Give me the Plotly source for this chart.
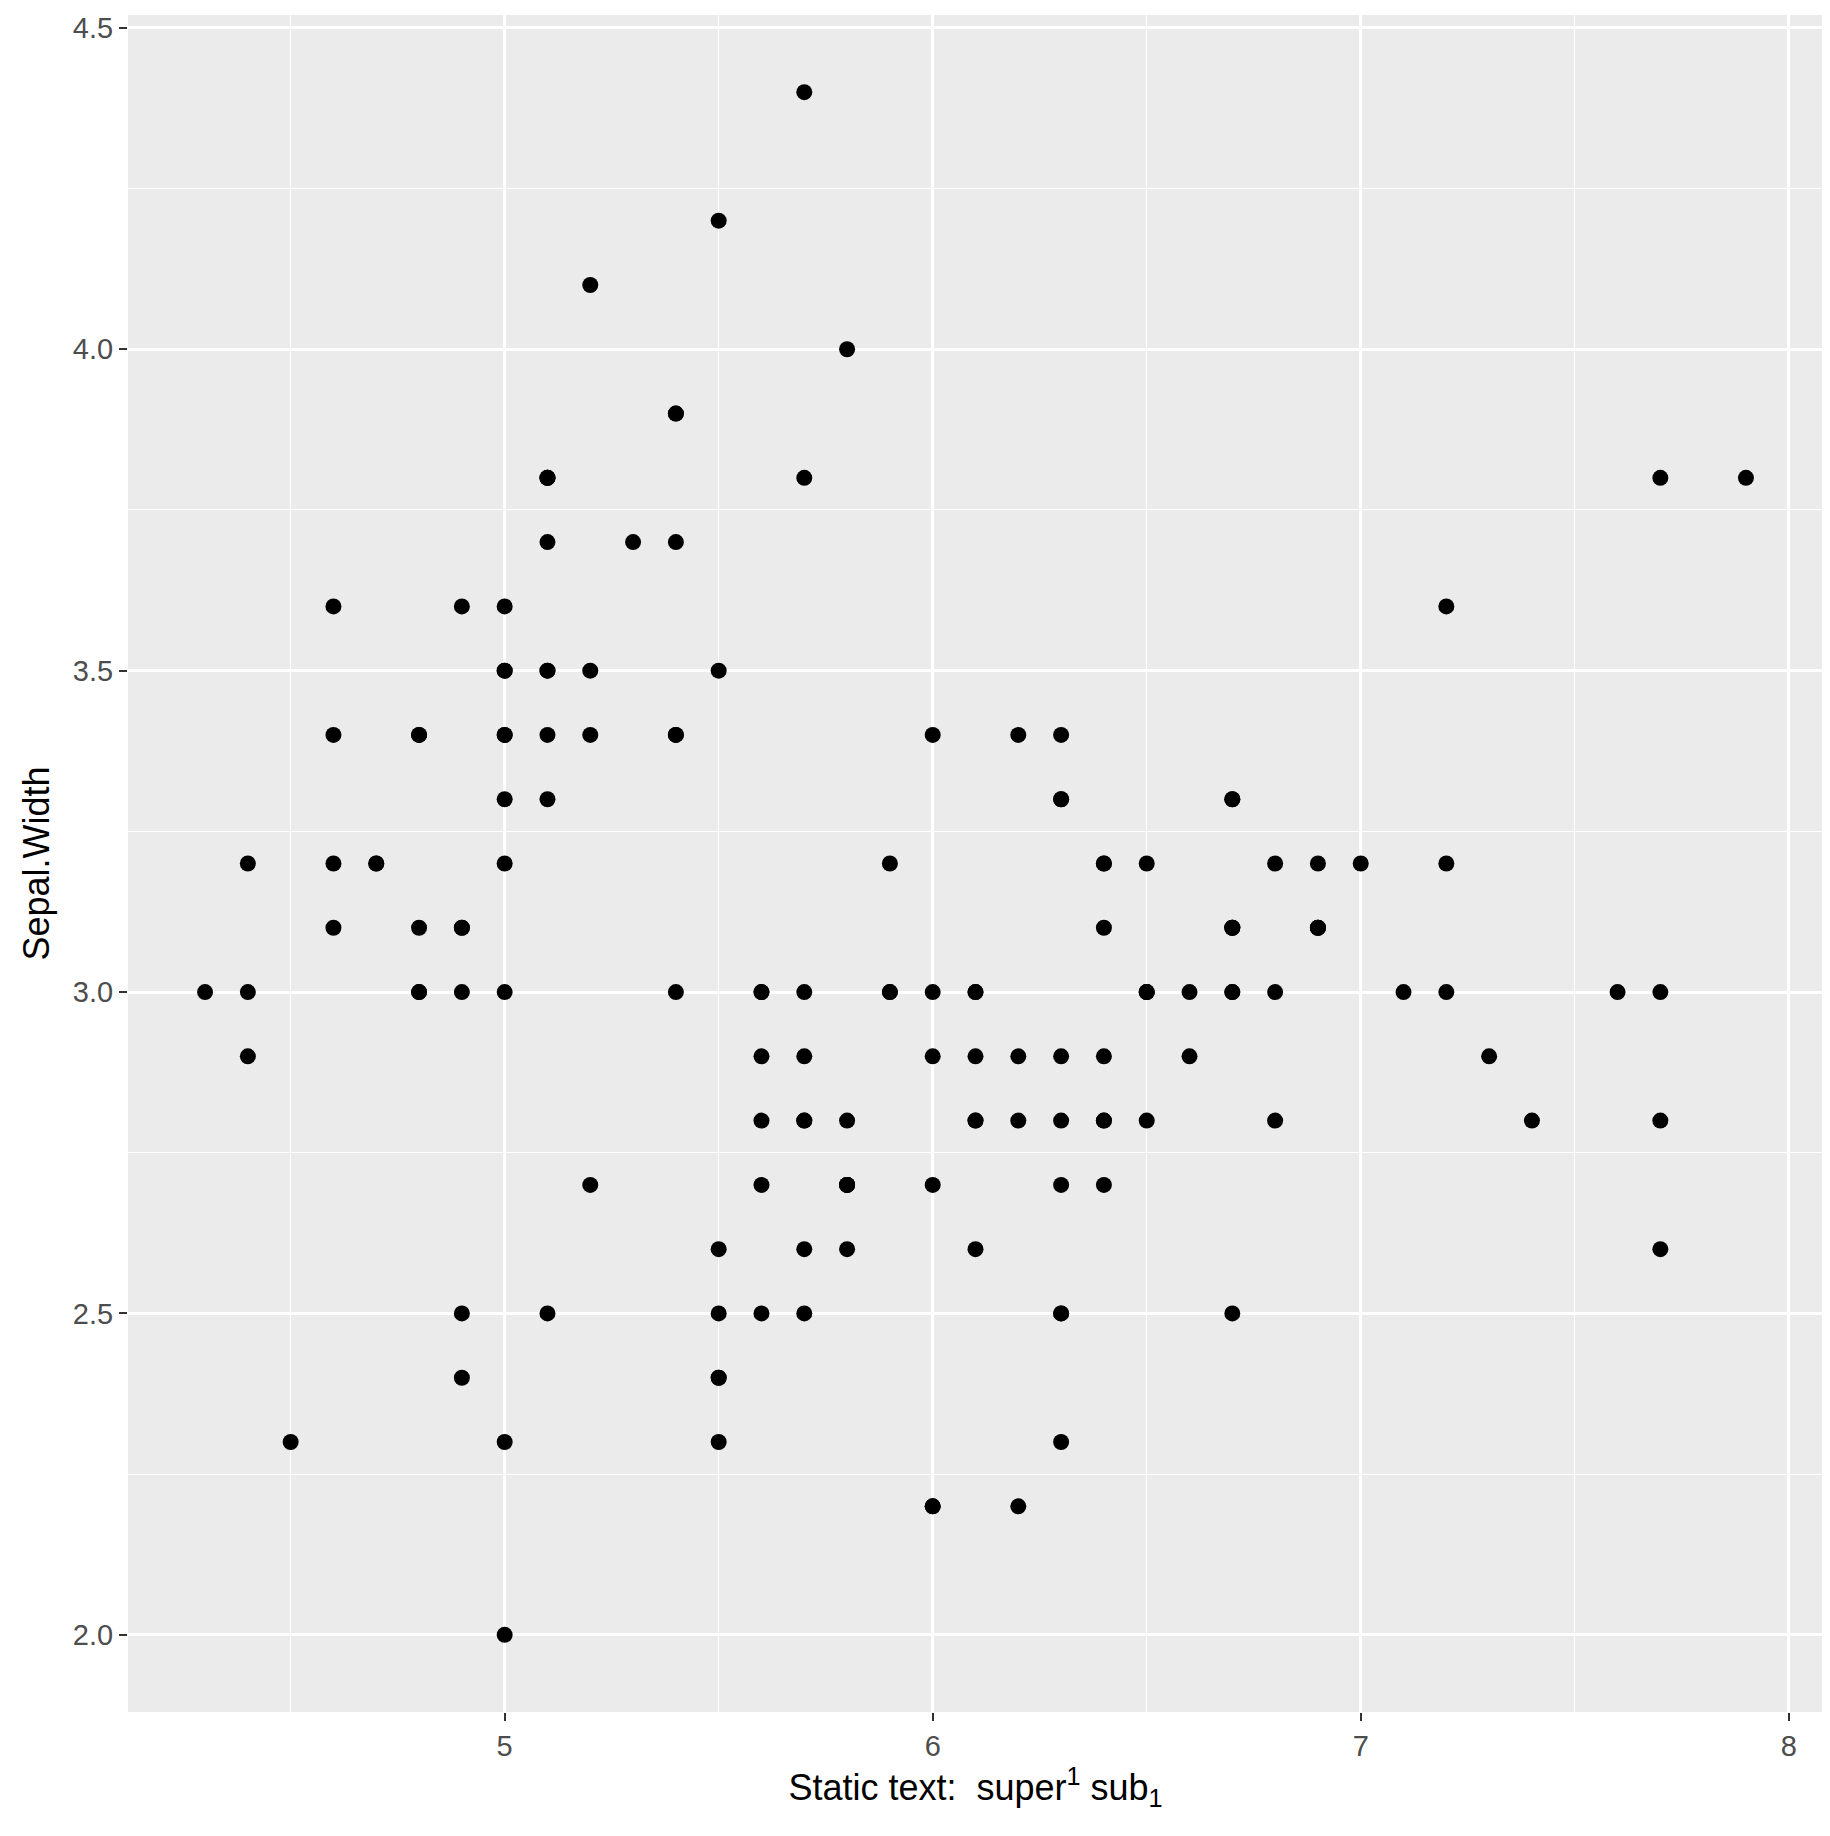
import plotly.graph_objects as go

# iris Sepal.Length / Sepal.Width
sepal_length = [
    5.1, 4.9, 4.7, 4.6, 5.0, 5.4, 4.6, 5.0, 4.4, 4.9, 5.4, 4.8, 4.8, 4.3, 5.8, 5.7, 5.4, 5.1, 5.7, 5.1,
    5.4, 5.1, 4.6, 5.1, 4.8, 5.0, 5.0, 5.2, 5.2, 4.7, 4.8, 5.4, 5.2, 5.5, 4.9, 5.0, 5.5, 4.9, 4.4, 5.1,
    5.0, 4.5, 4.4, 5.0, 5.1, 4.8, 5.1, 4.6, 5.3, 5.0,
    7.0, 6.4, 6.9, 5.5, 6.5, 5.7, 6.3, 4.9, 6.6, 5.2, 5.0, 5.9, 6.0, 6.1, 5.6, 6.7, 5.6, 5.8, 6.2, 5.6,
    5.9, 6.1, 6.3, 6.1, 6.4, 6.6, 6.8, 6.7, 6.0, 5.7, 5.5, 5.5, 5.8, 6.0, 5.4, 6.0, 6.7, 6.3, 5.6, 5.5,
    5.5, 6.1, 5.8, 5.0, 5.6, 5.7, 5.7, 6.2, 5.1, 5.7,
    6.3, 5.8, 7.1, 6.3, 6.5, 7.6, 4.9, 7.3, 6.7, 7.2, 6.5, 6.4, 6.8, 5.7, 5.8, 6.4, 6.5, 7.7, 7.7, 6.0,
    6.9, 5.6, 7.7, 6.3, 6.7, 7.2, 6.2, 6.1, 6.4, 7.2, 7.4, 7.9, 6.4, 6.3, 6.1, 7.7, 6.3, 6.4, 6.0, 6.9,
    6.7, 6.9, 5.8, 6.8, 6.7, 6.7, 6.3, 6.5, 6.2, 5.9,
]
sepal_width = [
    3.5, 3.0, 3.2, 3.1, 3.6, 3.9, 3.4, 3.4, 2.9, 3.1, 3.7, 3.4, 3.0, 3.0, 4.0, 4.4, 3.9, 3.5, 3.8, 3.8,
    3.4, 3.7, 3.6, 3.3, 3.4, 3.0, 3.4, 3.5, 3.4, 3.2, 3.1, 3.4, 4.1, 4.2, 3.1, 3.2, 3.5, 3.6, 3.0, 3.4,
    3.5, 2.3, 3.2, 3.5, 3.8, 3.0, 3.8, 3.2, 3.7, 3.3,
    3.2, 3.2, 3.1, 2.3, 2.8, 2.8, 3.3, 2.4, 2.9, 2.7, 2.0, 3.0, 2.2, 2.9, 2.9, 3.1, 3.0, 2.7, 2.2, 2.5,
    3.2, 2.8, 2.5, 2.8, 2.9, 3.0, 2.8, 3.0, 2.9, 2.6, 2.4, 2.4, 2.7, 2.7, 3.0, 3.4, 3.1, 2.3, 3.0, 2.5,
    2.6, 3.0, 2.6, 2.3, 2.7, 3.0, 2.9, 2.9, 2.5, 2.8,
    3.3, 2.7, 3.0, 2.9, 3.0, 3.0, 2.5, 2.9, 2.5, 3.6, 3.2, 2.7, 3.0, 2.5, 2.8, 3.2, 3.0, 3.8, 2.6, 2.2,
    3.2, 2.8, 2.8, 2.7, 3.3, 3.2, 2.8, 3.0, 2.8, 3.0, 2.8, 3.8, 2.8, 2.8, 2.6, 3.0, 3.4, 3.1, 3.0, 3.1,
    3.1, 3.1, 2.7, 3.2, 3.3, 3.0, 2.5, 3.0, 3.4, 3.0,
]

x_title = "Static text:  super<sup>1</sup> sub<sub>1</sub>"
y_title = "Sepal.Width"

fig = go.Figure(go.Scatter(
    x=sepal_length, y=sepal_width, mode="markers",
    marker=dict(color="black", size=16),
))

axis_common = dict(
    showgrid=True, gridcolor="white", gridwidth=2.8,
    ticks="outside", ticklen=8, tickwidth=2.4, tickcolor="#333333",
    tickfont=dict(family="Liberation Sans, Arial", size=29, color="#4d4d4d"),
    zeroline=False, showline=False,
    minor=dict(showgrid=True, gridcolor="white", gridwidth=1.4, ticks=""),
)

fig.update_xaxes(range=[4.12, 8.08], tickvals=[5, 6, 7, 8], minor_dtick=0.5, minor_tick0=4.5,
                 title=dict(text=x_title, font=dict(family="Liberation Sans, Arial", size=36, color="black"), standoff=12),
                 **axis_common)
fig.update_yaxes(range=[1.88, 4.52], tickvals=[2.0, 2.5, 3.0, 3.5, 4.0, 4.5], ticktext=["2.0", "2.5", "3.0", "3.5", "4.0", "4.5"],
                 minor_dtick=0.25, minor_tick0=2.25,
                 title=dict(text=y_title, font=dict(family="Liberation Sans, Arial", size=36, color="black"), standoff=12),
                 **axis_common)

fig.update_layout(
    width=1830, height=1836,
    plot_bgcolor="#ebebeb", paper_bgcolor="white",
    margin=dict(l=120, r=15, t=4, b=132),
    showlegend=False,
)

fig.write_html("out.html")
